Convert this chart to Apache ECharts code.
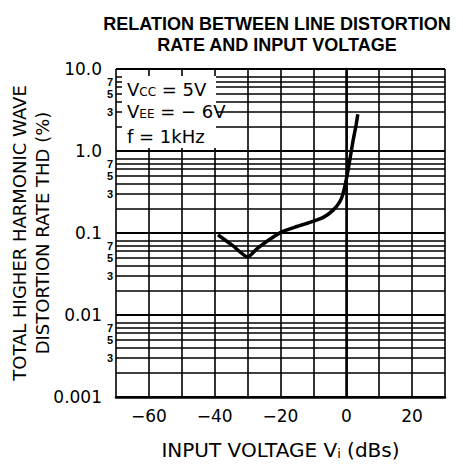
<!DOCTYPE html>
<html>
<head>
<meta charset="utf-8">
<script src="https://cdn.jsdelivr.net/npm/echarts@6/dist/echarts.min.js"></script>
<style>
  html, body { margin: 0; padding: 0; background: #fff; }
  #chart { width: 463px; height: 466px; }
</style>
</head>
<body>
<div id="chart"></div>
<script>
// input voltage (dBs) and THD (%)
const inputDb = [-39, -34.5, -30, -27, -23, -19.5, -15, -11, -7, -4, -2, -1, 0, 1, 2, 3, 3.5]
const thd = [0.095, 0.07, 0.051, 0.065, 0.085, 0.104, 0.12, 0.135, 0.155, 0.19, 0.24, 0.3, 0.45, 0.75, 1.3, 2.1, 2.8]

const xTickLabels = [-60, -40, -20, 0, 20]
const yTickLabels = ['0.001', '0.01', '0.1', '1.0', '10.0']
const decades = [0.001, 0.01, 0.1, 1]
const minorSteps = [2, 3, 4, 5, 6, 7, 8]
const minorLabelled = [3, 5, 7]

const font = '"Liberation Sans", Arial, Helvetica, sans-serif'
const wide = '"DejaVu Sans", Verdana, sans-serif'
const dom = document.getElementById('chart')
const myChart = echarts.init(dom, null, { renderer: 'svg' })

// minor horizontal grid lines of the log scale, labelled 7 / 5 / 3
const minorLines = []
decades.forEach(d => {
  minorSteps.forEach(m => {
    minorLines.push({
      yAxis: m * d,
      label: {
        show: minorLabelled.includes(m),
        formatter: String(m)
      }
    })
  })
})

const option = {
  animation: false,
  backgroundColor: '#fff',
  title: {
    text: 'RELATION BETWEEN LINE DISTORTION\nRATE AND INPUT VOLTAGE',
    left: 272,
    top: 8,
    textAlign: 'center',
    textStyle: {
      fontFamily: font,
      fontWeight: 900,
      fontSize: 18,
      lineHeight: 21,
      color: '#000'
    }
  },
  grid: {
    left: 116,
    right: 18,
    top: 69,
    bottom: 69,
    outerBoundsMode: 'none'
  },
  xAxis: {
    type: 'value',
    min: -70,
    max: 30,
    interval: 10,
    name: 'INPUT VOLTAGE V{sub|i} (dBs)',
    nameLocation: 'middle',
    nameGap: 43,
    nameMoveOverlap: false,
    nameTextStyle: {
      fontFamily: wide,
      fontSize: 20,
      color: '#000',
      rich: {
        sub: { fontFamily: wide, fontSize: 13, color: '#000', verticalAlign: 'bottom', padding: [7, 0, 0, 0] }
      }
    },
    axisLine: { show: true, lineStyle: { color: '#000', width: 2.5 } },
    axisTick: { show: false },
    splitLine: { show: true, lineStyle: { color: '#000', width: 1.6 } },
    axisLabel: {
      margin: 10,
      fontFamily: wide,
      fontSize: 17,
      color: '#000',
      formatter: function (v) {
        if (!xTickLabels.includes(v)) return ''
        return v < 0 ? '\u2212' + Math.abs(v) : String(v)
      }
    }
  },
  yAxis: {
    type: 'log',
    logBase: 10,
    min: 0.001,
    max: 10,
    name: 'TOTAL HIGHER HARMONIC WAVE\nDISTORTION RATE THD (%)',
    nameLocation: 'middle',
    nameRotate: 90,
    nameGap: 62,
    nameMoveOverlap: false,
    nameTextStyle: {
      fontFamily: wide,
      fontSize: 18,
      lineHeight: 23,
      color: '#000'
    },
    axisLine: { show: true, lineStyle: { color: '#000', width: 2.5 } },
    axisTick: { show: false },
    splitLine: { show: true, lineStyle: { color: '#000', width: 2 } },
    axisLabel: {
      margin: 14,
      fontFamily: wide,
      fontSize: 17,
      color: '#000',
      formatter: function (v) {
        const i = Math.round(Math.log10(v)) + 3
        return yTickLabels[i] || ''
      }
    }
  },
  series: [
    {
      type: 'line',
      data: inputDb.map((x, i) => [x, thd[i]]),
      showSymbol: false,
      smooth: 0.2,
      lineStyle: { color: '#000', width: 3.5 },
      z: 5,
      markLine: {
        silent: true,
        symbol: 'none',
        animation: false,
        precision: 8,
        lineStyle: { color: '#000', width: 1.6, type: 'solid' },
        label: {
          position: 'start',
          distance: 3,
          align: 'right',
          fontFamily: font,
          fontSize: 11,
          fontWeight: 'bold',
          color: '#000'
        },
        data: minorLines
      }
    }
  ],
  graphic: [
    {
      type: 'rect',
      left: 122,
      top: 76,
      shape: { width: 94, height: 72 },
      style: { fill: '#fff' },
      z: 10
    },
    {
      type: 'text',
      left: 127,
      top: 80,
      z: 11,
      style: {
        text: 'V{s|CC} = 5V',
        font: '18px ' + wide,
        fill: '#000',
        rich: { s: { fontSize: 12, fontFamily: wide, fill: '#000', verticalAlign: 'bottom' } }
      }
    },
    {
      type: 'text',
      left: 127,
      top: 102,
      z: 11,
      style: {
        text: 'V{s|EE} = \u2212 6V',
        font: '18px ' + wide,
        fill: '#000',
        rich: { s: { fontSize: 12, fontFamily: wide, fill: '#000', verticalAlign: 'bottom' } }
      }
    },
    {
      type: 'text',
      left: 127,
      top: 127,
      z: 11,
      style: {
        text: 'f = 1kHz',
        font: '18px ' + wide,
        fill: '#000'
      }
    }
  ]
}
myChart.setOption(option)
</script>
</body>
</html>
